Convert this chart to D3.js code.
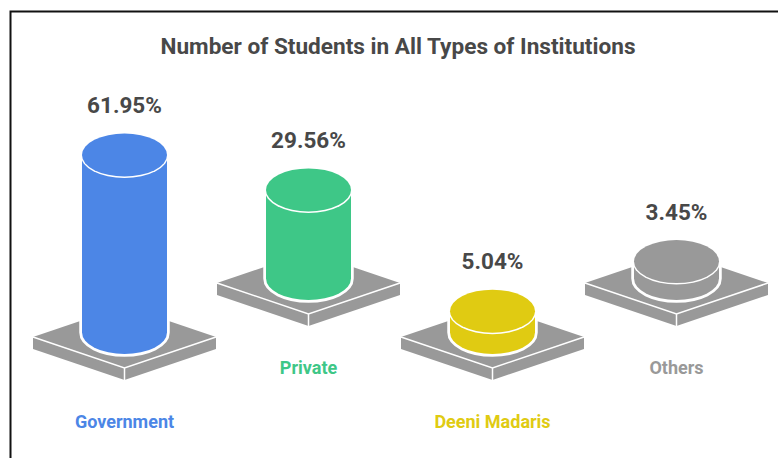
<!DOCTYPE html>
<html>
<head>
<meta charset="utf-8">
<script src="https://cdn.jsdelivr.net/npm/d3@7"></script>
<style>
  html, body { margin: 0; padding: 0; background: #fff; }
  text { font-family: Roboto, sans-serif; font-weight: 700; text-anchor: middle; }
</style>
</head>
<body>
<div id="chart"></div>
<script>
var svgWidth = 778;
var svgHeight = 458;

// chart values
var categories = ["Government", "Private", "Deeni Madaris", "Others"];
var shares = [61.95, 29.56, 5.04, 3.45];
var valueLabels = ["61.95%", "29.56%", "5.04%", "3.45%"];
var colors = ["#4c86e6", "#3ec787", "#e0cb12", "#999999"];
var titleText = "Number of Students in All Types of Institutions";

// plate and cylinder shape
var plateHalfW = 91.5;
var plateHalfH = 31;
var plateDepth = 12;
var rx = 42.5;
var ry = 21.5;

var svg = d3.select("#chart")
    .append("svg")
    .attr("width", svgWidth)
    .attr("height", svgHeight)
    .style("display", "block");

// frame, only left and top are inside the picture
svg.append("path")
    .attr("d", "M10.5,458V11.5H778")
    .attr("fill", "none")
    .attr("stroke", "#111")
    .attr("stroke-width", 2);

svg.append("text")
    .attr("x", 398)
    .attr("y", 54)
    .attr("font-size", 22.6)
    .attr("fill", "#484848")
    .text(titleText);

var xScale = d3.scalePoint()
    .domain(categories)
    .range([124.5, 676.5]);

// not proportional in the original, small values keep a minimum height
var heightScale = d3.scaleLinear()
    .domain([0, 61.95])
    .range([7, 177]);

// the plates zigzag between two rows
function plateY(i) {
    return i % 2 === 0 ? 337 : 283;
}

function platePath(g) {
    var w = plateHalfW, h = plateHalfH, d = plateDepth;
    g.append("path")
        .attr("d", `M${-w},0L0,${-h}L${w},0V${d}L0,${h + d}L${-w},${d}Z`)
        .attr("fill", "#999");
    g.append("path")
        .attr("d", `M${-w},0L0,${h}L${w},0M0,${h}V${h + d}`)
        .attr("fill", "none")
        .attr("stroke", "#fff")
        .attr("stroke-width", 1.5);
}

var groups = svg.selectAll("g.item")
    .data(categories)
    .enter()
    .append("g")
    .attr("class", "item")
    .attr("transform", (d, i) => `translate(${xScale(d)}, ${plateY(i)})`);

groups.each(function(d, i) {
    var g = d3.select(this);
    platePath(g);

    var baseY = -4.5;
    var h = heightScale(shares[i]);
    var topY = baseY - h - 0.5;
    var body = `M${-rx},${topY}V${baseY}A${rx},${ry} 0 0 0 ${rx},${baseY}V${topY}A${rx},${ry} 0 0 0 ${-rx},${topY}Z`;

    // white halo round the body, then body and lid
    g.append("path")
        .attr("d", body)
        .attr("fill", colors[i])
        .attr("stroke", "#fff")
        .attr("stroke-width", 5.5)
        .attr("stroke-linejoin", "round")
        .style("paint-order", "stroke");
    g.append("ellipse")
        .attr("cx", 0)
        .attr("cy", topY)
        .attr("rx", rx + 1.5)
        .attr("ry", ry + 1.5)
        .attr("fill", "#fff");
    g.append("ellipse")
        .attr("cx", 0)
        .attr("cy", topY)
        .attr("rx", rx)
        .attr("ry", ry)
        .attr("fill", colors[i]);

    g.append("text")
        .attr("x", 0)
        .attr("y", topY - ry - 20.5)
        .attr("font-size", 22.5)
        .attr("fill", "#484848")
        .text(valueLabels[i]);

    g.append("text")
        .attr("x", 0)
        .attr("y", 91)
        .attr("font-size", 18)
        .attr("fill", colors[i])
        .text(d);
});
</script>
</body>
</html>
